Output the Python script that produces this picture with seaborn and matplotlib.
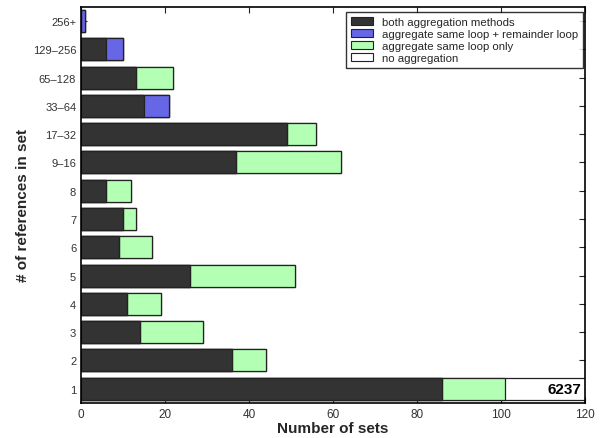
import numpy as np
import pandas as pd
import matplotlib
matplotlib.use("Agg")
import matplotlib.pyplot as plt
from matplotlib.patches import Patch
import seaborn as sns

# Bucket of "# of references in set", listed top to bottom
categories = ["256+", "129\u2013256", "65\u2013128", "33\u201364", "17\u201332", "9\u201316",
              "8", "7", "6", "5", "4", "3", "2", "1"]
both_methods = [0, 6, 13, 15, 49, 37, 6, 10, 9, 26, 11, 14, 36, 86]
same_plus_remainder = [1, 4, 0, 6, 0, 0, 0, 0, 0, 0, 0, 0, 0, 0]
same_loop_only = [0, 0, 9, 0, 7, 25, 6, 3, 8, 25, 8, 15, 8, 15]
no_aggregation = [0, 0, 0, 0, 0, 0, 0, 0, 0, 0, 0, 0, 0, 6237]

series_labels = ["both aggregation methods", "aggregate same loop + remainder loop",
                 "aggregate same loop only", "no aggregation"]
colors = ["#333333", "#6666e6", "#b3ffb3", "#ffffff"]

sns.set_style("ticks")
plt.rcParams["font.family"] = ["Liberation Sans", "DejaVu Sans"]

layers = np.array([both_methods, same_plus_remainder, same_loop_only, no_aggregation], dtype=float)
cum = np.cumsum(layers, axis=0)

fig = plt.figure(figsize=(6.05, 4.39), dpi=100)
ax = fig.add_axes([0.134, 0.080, 0.833, 0.902])

# Stacked bars: draw cumulative totals from the outermost layer inward
for i in range(3, -1, -1):
    df = pd.DataFrame({"cat": categories, "val": cum[i]})
    sns.barplot(data=df, x="val", y="cat", order=categories, color=colors[i],
                saturation=1, width=0.78, edgecolor="#222222", linewidth=0.9, ax=ax)

ax.set_xlim(0, 120)
ax.set_ylim(13.5, -0.5)
ax.set_xticks(np.arange(0, 121, 20))
ax.tick_params(direction="in", top=True, right=True, length=4, width=0.8,
               labelsize=8.5, colors="#222222", labelcolor="#333333")
ax.tick_params(axis="y", labelsize=8)
for s in ax.spines.values():
    s.set_linewidth(1.2)
    s.set_color("black")

ax.set_xlabel("Number of sets", fontsize=11, fontweight="bold", labelpad=1)
ax.set_ylabel("# of references in set", fontsize=11, fontweight="bold", labelpad=2)

# Value of the truncated "no aggregation" bar
ax.text(119, 13, f"{no_aggregation[-1]}", ha="right", va="center",
        fontsize=11, fontweight="bold", color="black")

handles = [Patch(facecolor=c, edgecolor="#222222", linewidth=0.8) for c in colors]
leg = ax.legend(handles, series_labels, loc="upper right", fontsize=8.2,
                frameon=True, fancybox=False, edgecolor="black",
                bbox_to_anchor=(0.996, 0.987),
                borderaxespad=0.0, handlelength=1.9, handleheight=0.7,
                labelspacing=0.17, borderpad=0.45, handletextpad=0.8)
leg.get_frame().set_linewidth(1.0)

fig.savefig("out.png", dpi=100)
